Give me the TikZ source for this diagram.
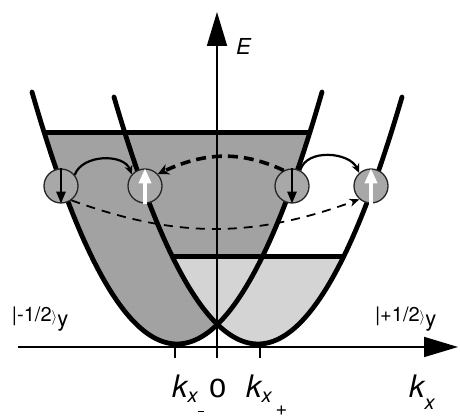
\documentclass[tikz,border=0pt]{standalone}
\usepackage{fontspec}
\setmainfont{TeX Gyre Heros}
\usetikzlibrary{arrows.meta}
\definecolor{darkfill}{RGB}{162,162,162}
\definecolor{lightfill}{RGB}{212,212,212}
\definecolor{spinfill}{RGB}{168,168,168}
\newcommand{\myfs}[1]{\fontsize{#1}{#1}\selectfont}
\begin{document}
\begin{tikzpicture}[x=1pt,y=1pt,
  axisline/.style={line width=1.8pt},
  axisarrow/.style={line width=1.8pt,-{Triangle[length=34pt,width=20pt]}},
  band/.style={line width=4.8pt,line cap=round},
  fermi/.style={line width=5pt},
  spin/.style={circle,draw=black!85,line width=1.3pt,fill=spinfill,minimum size=34pt,inner sep=0pt},
  downspin/.style={black,line width=2.6pt,-{Triangle[length=12pt,width=9pt]}},
  upspin/.style={white,line width=4pt,-{Triangle[length=15pt,width=12pt]}},
  hop/.style={line width=2.2pt,-{Stealth[length=9pt,width=8pt]}},
  hopdash/.style={line width=3.6pt,dash pattern=on 10pt off 6pt,-{Stealth[length=11pt,width=11pt]}},
  flipdash/.style={line width=1.8pt,dash pattern=on 9pt off 7pt,-{Stealth[length=10pt,width=8pt]}},
  lbl/.style={anchor=base west,inner sep=0pt,outer sep=0pt}]
\useasboundingbox (0,0) rectangle (460,419);

% filled Fermi seas
\fill[darkfill] plot[domain=44.3:309.7,samples=80] (\x,{75+252*((\x-177)/145)^2}) -- cycle;
\fill[lightfill] plot[domain=172.5:343.5,samples=80] (\x,{75+247*((\x-258)/144)^2}) -- cycle;

% axes
\coordinate (xs) at (18,72);
\coordinate (xe) at (458,72);
\coordinate (ys) at (217,61);
\coordinate (ye) at (217,407);
\coordinate (t1a) at (175,72);
\coordinate (t1b) at (175,61);
\coordinate (t2a) at (260,72);
\coordinate (t2b) at (260,61);
\draw[axisarrow] (ys) -- (ye);
\draw[axisarrow] (xs) -- (xe);
\draw[axisline] (t1a) -- (t1b);
\draw[axisline] (t2a) -- (t2b);

% bands
\draw[band] plot[domain=32:322,samples=100] (\x,{75+252*((\x-177)/145)^2});
\draw[band] plot[domain=114:402,samples=100] (\x,{75+247*((\x-258)/144)^2});

% Fermi levels
\draw[fermi] (44.3,286) -- (309.7,286);
\draw[fermi] (172.5,162) -- (343.5,162);

% spins
\node[spin] (s1) at (61,233) {};
\node[spin] (s2) at (145,233) {};
\node[spin] (s3) at (292,233) {};
\node[spin] (s4) at (371,233) {};
\draw[downspin] (s1.north) -- (s1.south);
\draw[downspin] (s3.north) -- (s3.south);
\draw[upspin] (s2.south) -- (s2.north);
\draw[upspin] (s4.south) -- (s4.north);

% transitions
\draw[hop] (s1.39) to[out=70,in=110] (s2.139);
\draw[hop] (s3.62) to[out=75,in=115] (s4.132);
\draw[hopdash] (s3.118) to[out=155,in=25] (s2.43);
\draw[flipdash] (s1.-54) to[out=-20,in=200] (s4.229);

% labels
\node[lbl] (Elab) at (236,364) {\myfs{22}\itshape E};
\node[lbl] (mstate) at (12,97) {\myfs{20}|-1/2{\myfs{15}$\rangle$}\raisebox{-5pt}{\myfs{22}y}};
\node[lbl] (pstate) at (375,97) {\myfs{20}|+1/2{\myfs{15}$\rangle$}\raisebox{-5pt}{\myfs{22}y}};
\node[lbl] (kminus) at (172,21) {\myfs{31}\itshape k\raisebox{-5pt}{\myfs{20}x}\raisebox{-14.5pt}{\rule{6pt}{1.7pt}}};
\node[lbl] (zero) at (209,21) {\myfs{26}\scalebox{1.2}[1]{0}};
\node[lbl] (kplus) at (246,21) {\myfs{31}\itshape k\raisebox{-5pt}{\myfs{20}x\hspace{4pt}\raisebox{-13pt}{\upshape +}}};
\node[lbl] (kx) at (409,21) {\myfs{31}\itshape k\raisebox{-12pt}{\myfs{20}x}};
\end{tikzpicture}
\end{document}
